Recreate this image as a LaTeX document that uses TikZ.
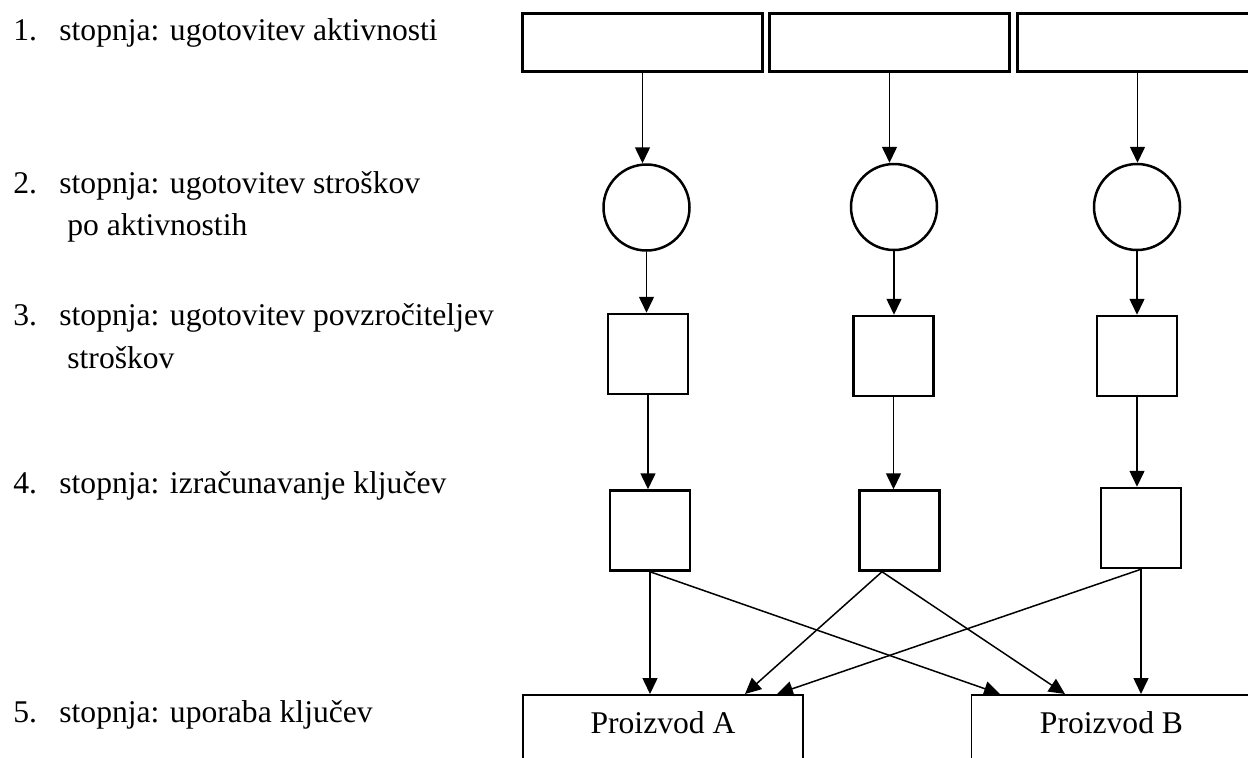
\documentclass[tikz,border=0pt]{standalone}
\usepackage{fontspec}
\setmainfont{Liberation Serif}
\usetikzlibrary{calc, arrows.meta, positioning}

\begin{document}
\begin{tikzpicture}[
    x=0.5pt, y=-0.5pt,
    korak/.style={anchor=base west, inner sep=0pt, font=\fontsize{15.8}{20}\selectfont},
    aktivnost/.style={rectangle, draw, line width=1.5pt, minimum width=120pt, minimum height=29pt, inner sep=0pt},
    krog/.style={circle, draw, line width=1.25pt, minimum size=43pt, inner sep=0pt},
    kvadrat/.style={rectangle, draw, line width=1.25pt, minimum size=40pt, inner sep=0pt},
    izdelek/.style={rectangle, draw, line width=0.75pt, minimum width=140pt, inner xsep=0pt, inner ysep=8.5pt, text height=11pt, text depth=40pt, anchor=north, font=\fontsize{15.8}{20}\selectfont},
    arrow/.style={-{Triangle[length=8pt, width=7.5pt]}, line width=0.75pt}
  ]
    \useasboundingbox (0,0) rectangle (1248,757);
    \clip (0,0) rectangle (1248,757);

    % stopnje
    \node[korak] (n1) at (13,40) {1.};
    \node[korak] (t1) at (59,40) {stopnja: ugotovitev aktivnosti};
    \node[korak] (n2) at (13,193) {2.};
    \node[korak] (t2) at (59,193) {stopnja: ugotovitev stroškov};
    \node[korak] (t2b) at (67,235) {po aktivnostih};
    \node[korak] (n3) at (13,325) {3.};
    \node[korak] (t3) at (59,325) {stopnja: ugotovitev povzročiteljev};
    \node[korak] (t3b) at (67,368) {stroškov};
    \node[korak] (n4) at (13,493) {4.};
    \node[korak] (t4) at (59,493) {stopnja: izračunavanje ključev};
    \node[korak] (n5) at (13,722) {5.};
    \node[korak] (t5) at (59,722) {stopnja: uporaba ključev};

    % aktivnosti
    \node[aktivnost] (akt1) at (642.5,42.5) {};
    \node[aktivnost] (akt2) at (889.5,42.5) {};
    \node[aktivnost] (akt3) at (1137.5,42.5) {};

    % stroski po aktivnostih
    \node[krog] (str1) at (646.5,207.5) {};
    \node[krog] (str2) at (894,207) {};
    \node[krog] (str3) at (1137,207) {};

    % povzrocitelji
    \node[kvadrat] (pov1) at (648,354) {};
    \node[kvadrat] (pov2) at (893.5,356) {};
    \node[kvadrat] (pov3) at (1137,356) {};

    % kljuci
    \node[kvadrat] (klj1) at (650,530.5) {};
    \node[kvadrat] (klj2) at (899.5,530.5) {};
    \node[kvadrat] (klj3) at (1141,528) {};

    % proizvodi
    \node[izdelek] (pa) at (663,694) {Proizvod A};
    \node[izdelek] (pb) at (1111.5,694) {Proizvod B};

    \draw[arrow] (akt1.south) -- (akt1.south |- str1.north);
    \draw[arrow] (akt2.south) -- (akt2.south |- str2.north);
    \draw[arrow] (akt3.south) -- (akt3.south |- str3.north);

    \draw[arrow] (str1.south) -- (str1.south |- pov1.north);
    \draw[arrow] (str2.south) -- (str2.south |- pov2.north);
    \draw[arrow] (str3.south) -- (str3.south |- pov3.north);

    \draw[arrow] (pov1.south) -- (pov1.south |- klj1.north);
    \draw[arrow] (pov2.south) -- (pov2.south |- klj2.north);
    \draw[arrow] (pov3.south) -- (pov3.south |- klj3.north);

    \draw[arrow] (klj1.south) -- (klj1.south |- pa.north);
    \draw[arrow] (klj1.south) -- ([xshift=-55.75pt]pb.north);
    \draw[arrow] ([xshift=-8.75pt]klj2.south) -- ([xshift=41pt]pa.north);
    \draw[arrow] ([xshift=-8.75pt]klj2.south) -- ([xshift=-23.25pt]pb.north);
    \draw[arrow] (klj3.south) -- ([xshift=57pt]pa.north);
    \draw[arrow] (klj3.south) -- (klj3.south |- pb.north);
\end{tikzpicture}
\end{document}
